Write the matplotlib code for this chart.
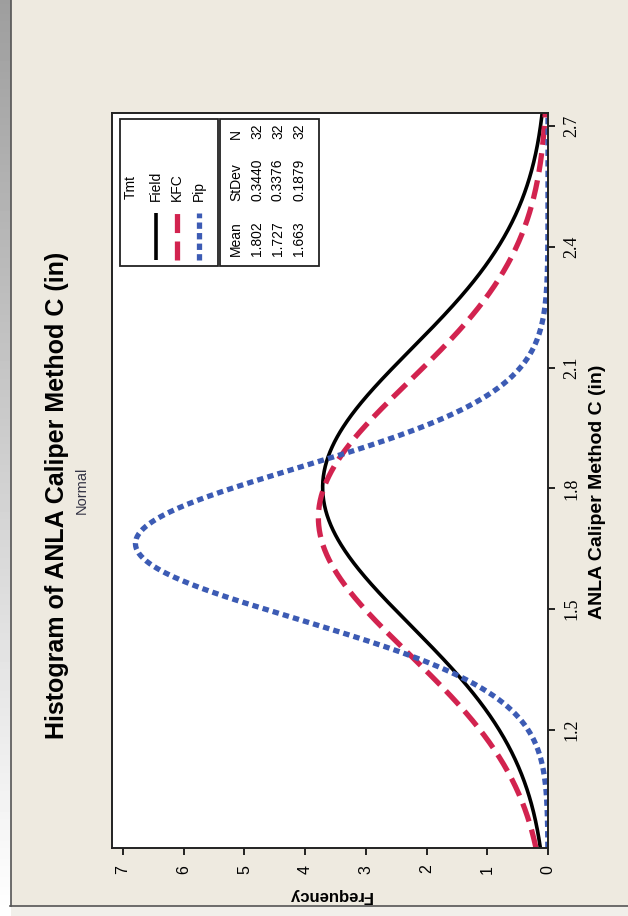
import numpy as np
import matplotlib
matplotlib.use("Agg")
import matplotlib.pyplot as plt
from matplotlib.lines import Line2D
from matplotlib.patches import Rectangle

# fitted normal curves (values from the chart legend)
treatments = ["Field", "KFC", "Pip"]
means = [1.802, 1.727, 1.663]
stdevs = [0.3440, 0.3376, 0.1879]
counts = [32, 32, 32]
bin_width = 0.1

freq_ticks = [0, 1, 2, 3, 4, 5, 6, 7]
caliper_ticks = [1.2, 1.5, 1.8, 2.1, 2.4, 2.7]

colors = ["black", "#D2234F", "#3C5BB4"]
styles = [(0, ()), (0, (3.6, 1.6)), (0, (1.2, 0.8))]
widths = [2.6, 3.8, 3.8]

plt.rcParams["font.family"] = ["Liberation Sans", "DejaVu Sans"]

W, H = 628, 916
fig = plt.figure(figsize=(W / 100, H / 100), dpi=100)
fig.patch.set_facecolor("#EEEAE0")

def fx(px):
    return px / W

def fy(py):
    return 1 - py / H

# left grey gradient strip and frame lines
gax = fig.add_axes([0, 0, fx(11), 1])
grad = np.linspace(0.62, 1.0, 256).reshape(-1, 1)
gax.imshow(grad, cmap="gray", vmin=0, vmax=1, aspect="auto", extent=[0, 1, 1, 0])
gax.axis("off")
fig.add_artist(Rectangle((0, 0), 1, fy(906), transform=fig.transFigure,
                         facecolor="#F1EFEA", edgecolor="none", zorder=0))
fig.add_artist(Line2D([fx(11), fx(11)], [fy(906), 1], transform=fig.transFigure,
                      color="#555555", lw=1.2))
fig.add_artist(Line2D([fx(10), 1], [fy(906), fy(906)], transform=fig.transFigure,
                      color="#555555", lw=1.2))

# main plot: chart rotated 90 deg, frequency runs right-to-left
ax = fig.add_axes([fx(112), fy(848), (548 - 112) / W, (848 - 113) / H])
ax.set_facecolor("white")
lo, hi = 0.907, 2.732
v = np.linspace(lo, hi, 600)
for m, s, n, c, ls, lw in zip(means, stdevs, counts, colors, styles, widths):
    f = n * bin_width / (s * np.sqrt(2 * np.pi)) * np.exp(-0.5 * ((v - m) / s) ** 2)
    ax.plot(f, v, color=c, linestyle=ls, lw=lw, solid_capstyle="butt",
            dash_capstyle="butt")

ax.set_xlim(7.18, 0)
ax.set_ylim(lo, hi)
ax.yaxis.tick_right()
ax.set_xticks(freq_ticks)
ax.set_xticklabels([str(t) for t in freq_ticks], rotation=90, fontsize=11.5)
ax.set_yticks(caliper_ticks)
ax.set_yticklabels([f"{t:.1f}" for t in caliper_ticks], rotation=90, fontsize=13,
                   fontfamily="Liberation Serif", va="center")
ax.tick_params(axis="both", direction="out", length=5, width=1.2, colors="black")
ax.tick_params(axis="x", pad=7)
ax.tick_params(axis="y", pad=6)
for sp in ax.spines.values():
    sp.set_linewidth(1.4)
    sp.set_color("#222222")

# titles and axis labels
fig.text(fx(57), fy(495), "Histogram of ANLA Caliper Method C (in)", rotation=90,
         fontsize=18, fontweight="bold", ha="center", va="center")
fig.text(fx(82), fy(490), "Normal", rotation=90, fontsize=10.5, color="#333344",
         ha="center", va="center")
fig.text(fx(597), fy(492), "ANLA Caliper Method C (in)", rotation=90,
         fontsize=14, fontweight="bold", ha="center", va="center")
fig.text(fx(330), fy(896), "Frequency", rotation=180,
         fontsize=12, fontweight="bold", ha="center", va="center")

# legend boxes
for x0, x1 in [(120, 218), (220, 319)]:
    fig.add_artist(Rectangle((fx(x0), fy(266)), (x1 - x0) / W, (266 - 119) / H,
                             transform=fig.transFigure, facecolor="white",
                             edgecolor="#222222", lw=1.3, zorder=5))

fig.text(fx(131), fy(199), "Tmt", rotation=90, fontsize=10, ha="center",
         va="bottom", zorder=6)
rows_x = [156, 177, 199]
for name, c, ls, lw, x in zip(treatments, colors, styles, widths, rows_x):
    fig.text(fx(x), fy(201), name, rotation=90, fontsize=10, ha="center",
             va="bottom", zorder=6)
    fig.add_artist(Line2D([fx(x), fx(x)], [fy(260), fy(213)],
                          transform=fig.transFigure, color=c, linestyle=ls,
                          lw=lw, zorder=6, dash_capstyle="butt"))

col_y = [256, 201, 139]
header = ["Mean", "StDev", "N"]
for h, y in zip(header, col_y):
    fig.text(fx(236), fy(y), h, rotation=90, fontsize=10, ha="center",
             va="bottom", zorder=6)
stat_x = [257, 278, 299]
for m, s, n, x in zip(means, stdevs, counts, stat_x):
    for txt, y in zip([f"{m:.3f}", f"{s:.4f}", str(n)], col_y):
        fig.text(fx(x), fy(y), txt, rotation=90, fontsize=10, ha="center",
                 va="bottom", zorder=6)

fig.savefig("out.png", dpi=100, facecolor=fig.get_facecolor())
